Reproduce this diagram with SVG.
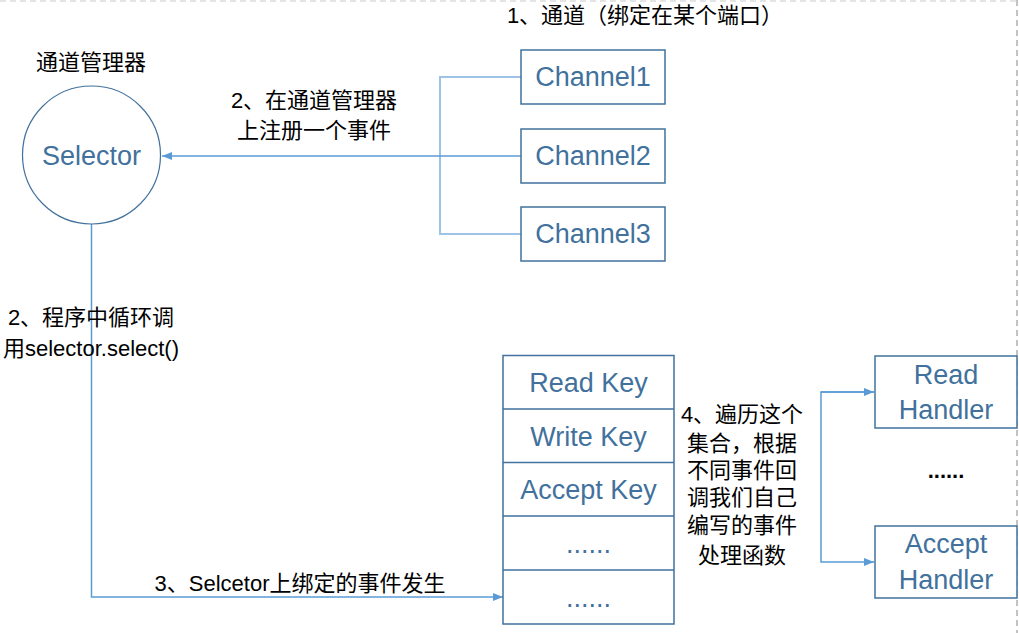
<svg xmlns="http://www.w3.org/2000/svg" width="1019" height="633" viewBox="0 0 1019 633">
<style>
.box{fill:#fff;stroke:#41719c;stroke-width:1.5}
.bt{font-family:"Liberation Sans","Noto Sans",sans-serif;font-size:27px;fill:#41719c;text-anchor:middle}
.ct{font-family:"Liberation Sans","Noto Sans CJK SC",sans-serif;font-size:22px;fill:#000;text-anchor:middle}
.conn{fill:none;stroke:#5b9bd5;stroke-width:1.5}
.br{fill:none;stroke:#9dc3e6;stroke-width:2}
</style>
<defs>
<marker id="ah" viewBox="0 0 10 8" refX="10" refY="4" markerWidth="10" markerHeight="8" markerUnits="userSpaceOnUse" orient="auto">
<path d="M0,0 L10,4 L0,8 z" fill="#5b9bd5"/>
</marker>
</defs>
<rect width="1019" height="633" fill="#fff"/>
<g id="page-border" fill="none" stroke-dasharray="6,4">
<line x1="0" y1="1" x2="1017" y2="1" stroke="#dcdcdc" stroke-width="1.5"/>
<line x1="1017" y1="0" x2="1017" y2="633" stroke="#b0b0b0" stroke-width="1.5"/>
</g>
<g id="connectors">
<path class="br" d="M521,77 H440 V234 H521"/>
<path class="conn" d="M521,156 H162" marker-end="url(#ah)"/>
<path class="conn" d="M91.5,224 V597 H503" marker-end="url(#ah)"/>
<path class="conn" d="M874,392 H821 V562 H874" marker-end="url(#ah)"/>
<path class="conn" d="M821,392 H874" marker-end="url(#ah)"/>
</g>
<g id="selector">
<circle cx="91.5" cy="155" r="69" fill="#fff" stroke="#41719c" stroke-width="1.2"/>
<text class="bt" x="91.5" y="165" font-size="28.5">Selector</text>
<text class="ct" x="91" y="70">通道管理器</text>
</g>
<g id="channel1">
<rect class="box" x="521" y="50" width="144" height="54"/>
<text class="bt" x="593" y="86">Channel1</text>
</g>
<g id="channel2">
<rect class="box" x="521" y="129" width="144" height="54"/>
<text class="bt" x="593" y="165">Channel2</text>
</g>
<g id="channel3">
<rect class="box" x="521" y="207" width="144" height="54"/>
<text class="bt" x="593" y="243">Channel3</text>
</g>
<g id="keys">
<rect class="box" x="503" y="355.5" width="171" height="268.5"/>
<line x1="503" y1="409" x2="674" y2="409" stroke="#41719c" stroke-width="1.5"/>
<line x1="503" y1="462.5" x2="674" y2="462.5" stroke="#41719c" stroke-width="1.5"/>
<line x1="503" y1="516" x2="674" y2="516" stroke="#41719c" stroke-width="1.5"/>
<line x1="503" y1="570" x2="674" y2="570" stroke="#41719c" stroke-width="1.5"/>
<text class="bt" x="588.5" y="392">Read Key</text>
<text class="bt" x="588.5" y="446">Write Key</text>
<text class="bt" x="588.5" y="499">Accept Key</text>
<text class="bt" x="588.5" y="553">......</text>
<text class="bt" x="588.5" y="607">......</text>
</g>
<g id="read-handler">
<rect class="box" x="875" y="356" width="142" height="72"/>
<text class="bt" x="946" y="384">Read</text>
<text class="bt" x="946" y="419">Handler</text>
</g>
<text class="ct" x="946" y="478" font-weight="bold">......</text>
<g id="accept-handler">
<rect class="box" x="875" y="526" width="142" height="72"/>
<text class="bt" x="946" y="553">Accept</text>
<text class="bt" x="946" y="589">Handler</text>
</g>
<g id="labels">
<text class="ct" x="645" y="23">1、通道（绑定在某个端口）</text>
<text class="ct" x="314" y="108">2、在通道管理器</text>
<text class="ct" x="314" y="138">上注册一个事件</text>
<text class="ct" x="91" y="325">2、程序中循环调</text>
<text class="ct" x="91" y="356">用selector.select()</text>
<text class="ct" x="300" y="591">3、Selcetor上绑定的事件发生</text>
<text class="ct" x="742" y="422">4、遍历这个</text>
<text class="ct" x="742" y="451">集合，根据</text>
<text class="ct" x="742" y="478">不同事件回</text>
<text class="ct" x="742" y="505">调我们自己</text>
<text class="ct" x="742" y="533">编写的事件</text>
<text class="ct" x="742" y="563">处理函数</text>
</g>
</svg>
